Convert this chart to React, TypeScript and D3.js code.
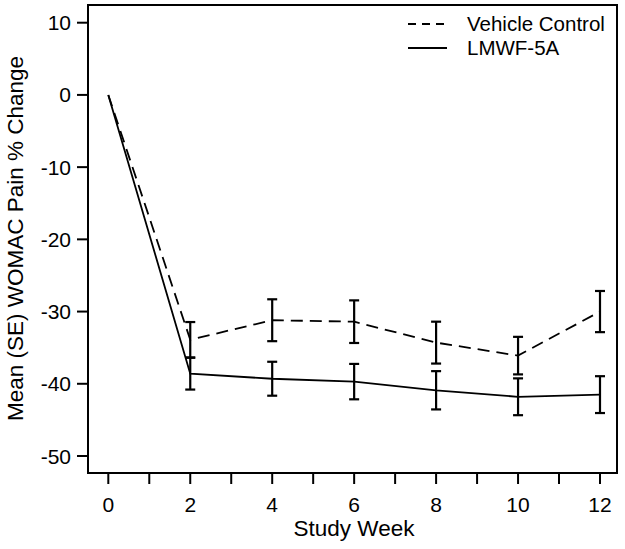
import React from "react";
import * as d3 from "d3";

const weeks = [0, 2, 4, 6, 8, 10, 12];
const vehicleMean = [0, -33.9, -31.2, -31.4, -34.3, -36.1, -30.0];
const vehicleSE = [0, 2.45, 2.9, 2.95, 2.9, 2.6, 2.85];
const lmwfMean = [0, -38.6, -39.3, -39.7, -40.9, -41.8, -41.5];
const lmwfSE = [0, 2.2, 2.35, 2.45, 2.65, 2.55, 2.55];
const yTicks = [10, 0, -10, -20, -30, -40, -50];
const xTicks = [0, 2, 4, 6, 8, 10, 12];
const xMinorTicks = [0, 1, 2, 3, 4, 5, 6, 7, 8, 9, 10, 11, 12];
const seriesNames = ["Vehicle Control", "LMWF-5A"];

const W = 625, H = 549;
const box = { left: 88, right: 617, top: 5, bottom: 473 };
const x = d3.scaleLinear().domain([0, 12]).range([108.3, 600]);
const y = d3.scaleLinear().domain([-50, 10]).range([456, 22.7]);
const font = "'Liberation Sans', Arial, sans-serif";

function Series({ mean, se, dash }: { mean: number[]; se: number[]; dash?: string }) {
  const line = d3.line<number>().x((_, i) => x(weeks[i])).y((d) => y(d));
  return (
    <g>
      <path d={line(mean) || ""} fill="none" stroke="#000" strokeWidth={1.8} strokeDasharray={dash} />
      {weeks.map((w, i) =>
        se[i] > 0 ? (
          <g key={i} stroke="#000" strokeWidth={2.2}>
            <line x1={x(w)} x2={x(w)} y1={y(mean[i] + se[i])} y2={y(mean[i] - se[i])} />
            <line x1={x(w) - 5} x2={x(w) + 5} y1={y(mean[i] + se[i])} y2={y(mean[i] + se[i])} />
            <line x1={x(w) - 5} x2={x(w) + 5} y1={y(mean[i] - se[i])} y2={y(mean[i] - se[i])} />
          </g>
        ) : null
      )}
    </g>
  );
}

export default function App() {
  return (
    <svg width={W} height={H} style={{ position: "absolute", left: 0, top: 0, background: "#fff" }} fontFamily={font}>
      <rect x={0} y={0} width={W} height={H} fill="#fff" />
      <rect x={box.left} y={box.top} width={box.right - box.left} height={box.bottom - box.top} fill="none" stroke="#000" strokeWidth={2} />
      {yTicks.map((t) => (
        <g key={t}>
          <line x1={box.left - 11} x2={box.left} y1={y(t)} y2={y(t)} stroke="#000" strokeWidth={2} />
          <text x={box.left - 17} y={y(t)} dy="0.36em" textAnchor="end" fontSize={21}>{t}</text>
        </g>
      ))}
      {xMinorTicks.map((t) => (
        <line key={t} x1={x(t)} x2={x(t)} y1={box.bottom} y2={box.bottom + 11} stroke="#000" strokeWidth={2} />
      ))}
      {xTicks.map((t) => (
        <text key={t} x={x(t)} y={512} textAnchor="middle" fontSize={21}>{t}</text>
      ))}
      <text x={354} y={536} textAnchor="middle" fontSize={22.5}>Study Week</text>
      <text transform={`translate(23, 238.5) rotate(-90)`} textAnchor="middle" fontSize={22.5}>
        Mean (SE) WOMAC Pain % Change
      </text>
      <Series mean={vehicleMean} se={vehicleSE} dash="12,7" />
      <Series mean={lmwfMean} se={lmwfSE} />
      <g>
        <line x1={408} x2={447} y1={24} y2={24} stroke="#000" strokeWidth={1.8} strokeDasharray="8,6" />
        <text x={467} y={24} dy="0.36em" fontSize={20.5}>{seriesNames[0]}</text>
        <line x1={408} x2={447} y1={48} y2={48} stroke="#000" strokeWidth={1.8} />
        <text x={467} y={48} dy="0.36em" fontSize={20.5}>{seriesNames[1]}</text>
      </g>
    </svg>
  );
}
